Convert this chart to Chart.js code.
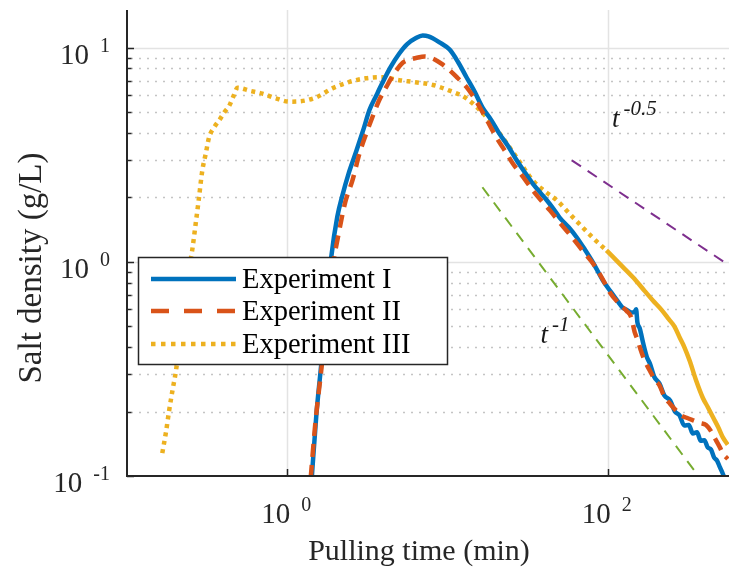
<!DOCTYPE html>
<html><head><meta charset="utf-8">
<script src="https://cdn.jsdelivr.net/npm/chart.js@4/dist/chart.umd.min.js"></script>
<style>html,body{margin:0;padding:0;background:#fff;}canvas{display:block;}</style>
</head><body>
<canvas id="c" width="729" height="572"></canvas>
<script>
// ---- data ----
const exp1X = [1.42,1.52,1.63,1.75,1.88,2.05,2.21,2.4,2.7,3.0,3.25,3.6,3.9,4.4,5.0,5.6,6.35,7.0,7.6,8.9,10.3,11.6,13.1,14.8,16.5,18.7,21,24,27,30,34,38,41.6,46,50,57,64,72,81,93,105,116,124,132,140,147,150,153,158,167,175,183,195,210,225,245,262,280,300,320,339,360,380,400,420,440,460,480,500,520,545];
const exp1Y = [0.097,0.195,0.334,0.6,1.05,1.62,2.05,2.55,3.3,4.2,5.1,6.0,6.8,8.1,9.4,10.4,11.1,11.4,11.3,10.6,9.8,8.6,7.3,6.2,5.26,4.6,3.98,3.45,2.98,2.65,2.32,2.1,1.94,1.76,1.61,1.45,1.3,1.14,0.99,0.82,0.72,0.65,0.61,0.595,0.58,0.585,0.6,0.52,0.49,0.41,0.36,0.335,0.29,0.27,0.238,0.225,0.2,0.192,0.172,0.173,0.158,0.16,0.146,0.147,0.136,0.133,0.122,0.118,0.11,0.103,0.094];

const exp2X = [1.40,1.50,1.62,1.75,1.9,2.11,2.3,2.55,2.82,3.1,3.4,3.75,4.15,4.6,5.25,5.8,6.35,7.2,8.1,9.2,10.3,11.6,13.1,14.5,15.9,18,20.2,22.8,25.6,29.5,34,38.5,43.5,51,60,70,81,92,103,117,131,140,147,152,160,170,183,197,210,225,245,265,285,310,340,375,410,440,470,500,523,560];
const exp2Y = [0.098,0.18,0.3,0.52,0.9,1.4,1.9,2.4,3.2,3.95,4.75,5.7,6.56,7.5,8.5,8.8,8.95,9.1,8.9,8.4,7.85,7.2,6.56,5.9,5.27,4.45,3.8,3.3,2.87,2.5,2.16,1.93,1.74,1.5,1.3,1.12,0.98,0.84,0.72,0.64,0.59,0.55,0.47,0.44,0.39,0.345,0.31,0.28,0.265,0.235,0.217,0.203,0.192,0.187,0.182,0.177,0.173,0.162,0.148,0.136,0.127,0.12];

const exp3X = [0.166,0.175,0.183,0.192,0.202,0.215,0.23,0.242,0.255,0.268,0.28,0.295,0.31,0.325,0.35,0.376,0.405,0.434,0.46,0.49,0.58,0.7,0.85,1.03,1.2,1.52,1.91,2.44,3.1,3.9,5.0,6.3,8.1,10.3,13.1,16.6,21.1,26.9,34,40,48,58,69.5,82,98,120,144,170,191,215,240,260,282,300,324,355,391,420,455,490,523,560];
const exp3Y = [0.128,0.16,0.201,0.25,0.31,0.45,0.7,0.9,1.13,1.5,1.94,2.67,3.2,3.81,4.25,4.58,5.0,5.35,5.9,6.5,6.3,6.1,5.8,5.6,5.62,5.87,6.46,6.92,7.2,7.28,7.05,6.9,6.7,6.3,5.8,4.94,3.98,3.08,2.40,2.15,1.94,1.67,1.45,1.28,1.13,0.97,0.845,0.73,0.66,0.6,0.54,0.5,0.44,0.4,0.345,0.28,0.232,0.21,0.187,0.168,0.151,0.14];

const slope1X = [16.5, 360];   // t^-1 guide
const slope1Y = [2.23, 0.102];
const slopeHalfX = [59.6, 540]; // t^-0.5 guide
const slopeHalfY = [2.98, 0.99];

const seriesNames = ['Experiment I', 'Experiment II', 'Experiment III'];
const xMajorTicks = [1, 100];
const xTickBase = ['10', '10'];
const xTickExp = ['0', '2'];
const yMajorTicks = [0.1, 1, 10];
const yTickBase = ['10', '10', '10'];
const yTickExp = ['-1', '0', '1'];
const yMinorTicks = [0.2,0.3,0.4,0.5,0.6,0.7,0.8,0.9,2,3,4,5,6,7,8,9];
const xTitle = 'Pulling time (min)';
const yTitle = 'Salt density (g/L)';
const guideLabels = [{base:'t', exp:'-0.5', x:106, y:4.25}, {base:'t', exp:'-1', x:38, y:0.419}];

// ---- styling ----
const C_BLUE = '#0072BD', C_RED = '#D95319', C_YEL = '#EDB120', C_PUR = '#7E2F8E', C_GRN = '#77AC30';
const AX = '#262626';
const SERIF = '"Liberation Serif","Times New Roman",serif';

function pts(xs, ys){ return xs.map((x,i)=>({x:x, y:ys[i]})); }

const datasets = [
  {label:'g1', data:pts(slope1X, slope1Y), borderColor:C_GRN, borderWidth:2, borderDash:[11,8], pointRadius:0, order:5},
  {label:'g2', data:pts(slopeHalfX, slopeHalfY), borderColor:C_PUR, borderWidth:2, borderDash:[11,8], pointRadius:0, order:5},
  {label:seriesNames[2], data:pts(exp3X, exp3Y), borderColor:C_YEL, borderWidth:4.5, borderDash:[4,4.5], borderCapStyle:'butt', pointRadius:0, cubicInterpolationMode:'monotone', order:3,
    segment:{borderDash: ctx => ctx.p0.parsed.x >= 95 ? [] : [4,4.5]}},
  {label:seriesNames[1], data:pts(exp2X, exp2Y), borderColor:C_RED, borderWidth:4.5, borderDash:[13,8], borderCapStyle:'butt', pointRadius:0, cubicInterpolationMode:'monotone', order:1},
  {label:seriesNames[0], data:pts(exp1X, exp1Y), borderColor:C_BLUE, borderWidth:4.5, pointRadius:0, cubicInterpolationMode:'monotone', order:2},
];

function drawPow(ctx, base, exp, x, y, align, bSize, eSize, italic, gap){
  const it = italic ? 'italic ' : '';
  ctx.font = it + bSize + 'px ' + SERIF;
  const wb = ctx.measureText(base).width;
  ctx.font = it + eSize + 'px ' + SERIF;
  const we = ctx.measureText(exp).width;
  const total = wb + gap + we;
  let x0 = x;
  if (align === 'right') x0 = x - total;
  else if (align === 'center') x0 = x - total/2;
  ctx.textAlign = 'left';
  ctx.textBaseline = 'alphabetic';
  ctx.font = it + bSize + 'px ' + SERIF;
  ctx.fillText(base, x0, y);
  ctx.font = it + eSize + 'px ' + SERIF;
  ctx.fillText(exp, x0 + wb + gap, y - 12);
}

const decor = {
  id:'decor',
  beforeDatasetsDraw(chart){
    const {ctx, chartArea:a, scales:{x, y}} = chart;
    ctx.save();
    ctx.strokeStyle = '#e3e3e3'; ctx.lineWidth = 1.5; ctx.setLineDash([]);
    xMajorTicks.forEach(v => { const px = Math.round(x.getPixelForValue(v)) + 0.5; ctx.beginPath(); ctx.moveTo(px, a.top); ctx.lineTo(px, a.bottom); ctx.stroke(); });
    yMajorTicks.forEach(v => { if (v <= y.min) return; const py = Math.round(y.getPixelForValue(v)) + 0.5; ctx.beginPath(); ctx.moveTo(a.left, py); ctx.lineTo(a.right, py); ctx.stroke(); });
    ctx.strokeStyle = '#c4c4c4'; ctx.lineWidth = 1.6; ctx.setLineDash([2,6]);
    yMinorTicks.forEach(v => { const py = Math.round(y.getPixelForValue(v)) + 0.5; ctx.beginPath(); ctx.moveTo(a.left + 4, py); ctx.lineTo(a.right, py); ctx.stroke(); });
    ctx.restore();
  },
  afterDatasetsDraw(chart){
    const {ctx, chartArea:a, scales:{x, y}} = chart;
    ctx.save();
    ctx.setLineDash([]);
    ctx.strokeStyle = AX; ctx.lineWidth = 2;
    ctx.beginPath(); ctx.moveTo(a.left, a.top); ctx.lineTo(a.left, a.bottom); ctx.lineTo(a.right, a.bottom); ctx.stroke();
    ctx.lineWidth = 1.5;
    yMajorTicks.forEach(v => { const py = Math.round(y.getPixelForValue(v)) + 0.5; ctx.beginPath(); ctx.moveTo(a.left, py); ctx.lineTo(a.left + 7, py); ctx.stroke(); });
    yMinorTicks.forEach(v => { const py = Math.round(y.getPixelForValue(v)) + 0.5; ctx.beginPath(); ctx.moveTo(a.left, py); ctx.lineTo(a.left + 4.5, py); ctx.stroke(); });
    xMajorTicks.forEach(v => { const px = Math.round(x.getPixelForValue(v)) + 0.5; ctx.beginPath(); ctx.moveTo(px, a.bottom); ctx.lineTo(px, a.bottom - 7); ctx.stroke(); });
    ctx.fillStyle = AX;
    yMajorTicks.forEach((v,i) => { const py = y.getPixelForValue(v); drawPow(ctx, yTickBase[i], yTickExp[i], 110, py + 16, 'right', 29, 20, false, 11); });
    xMajorTicks.forEach((v,i) => { const px = x.getPixelForValue(v); drawPow(ctx, xTickBase[i], xTickExp[i], px - 1, a.bottom + 47, 'center', 29, 20, false, 11); });
    ctx.font = '30px ' + SERIF; ctx.textAlign = 'center'; ctx.textBaseline = 'alphabetic';
    ctx.fillText(xTitle, 419, 560);
    ctx.save(); ctx.translate(41, 268); ctx.rotate(-Math.PI/2); ctx.font = '33px ' + SERIF; ctx.fillText(yTitle, 0, 0); ctx.restore();
    ctx.fillStyle = '#1a1a1a';
    guideLabels.forEach(g => { drawPow(ctx, g.base, g.exp, x.getPixelForValue(g.x), y.getPixelForValue(g.y), 'left', 27, 21, true, 4); });
    const L = {x:138.5, y:257.5, w:309, h:107};
    ctx.fillStyle = '#fff'; ctx.fillRect(L.x, L.y, L.w, L.h);
    ctx.strokeStyle = AX; ctx.lineWidth = 1.5; ctx.strokeRect(L.x, L.y, L.w, L.h);
    const rows = [279, 311, 344];
    const styles = [{c:C_BLUE, d:[]}, {c:C_RED, d:[18,15]}, {c:C_YEL, d:[4.5,5.5]}];
    rows.forEach((ry,i) => {
      ctx.strokeStyle = styles[i].c; ctx.lineWidth = 4.5; ctx.lineCap = 'butt'; ctx.setLineDash(styles[i].d);
      ctx.beginPath(); ctx.moveTo(151, ry); ctx.lineTo(236, ry); ctx.stroke();
      ctx.setLineDash([]);
      ctx.fillStyle = '#000'; ctx.font = '28.5px ' + SERIF; ctx.textAlign = 'left'; ctx.textBaseline = 'alphabetic';
      ctx.fillText(seriesNames[i], 242, ry + 9);
    });
    ctx.restore();
  }
};

new Chart(document.getElementById('c'), {
  type:'line',
  data:{datasets},
  options:{
    responsive:false, animation:false, devicePixelRatio:1,
    layout:{padding:{left:127, right:0, top:10, bottom:96}},
    plugins:{legend:{display:false}, tooltip:{enabled:false}},
    elements:{line:{tension:0}},
    scales:{
      x:{type:'logarithmic', min:0.1, max:570, display:false},
      y:{type:'logarithmic', min:0.1, max:15, display:false}
    }
  },
  plugins:[decor]
});
</script>
</body></html>
